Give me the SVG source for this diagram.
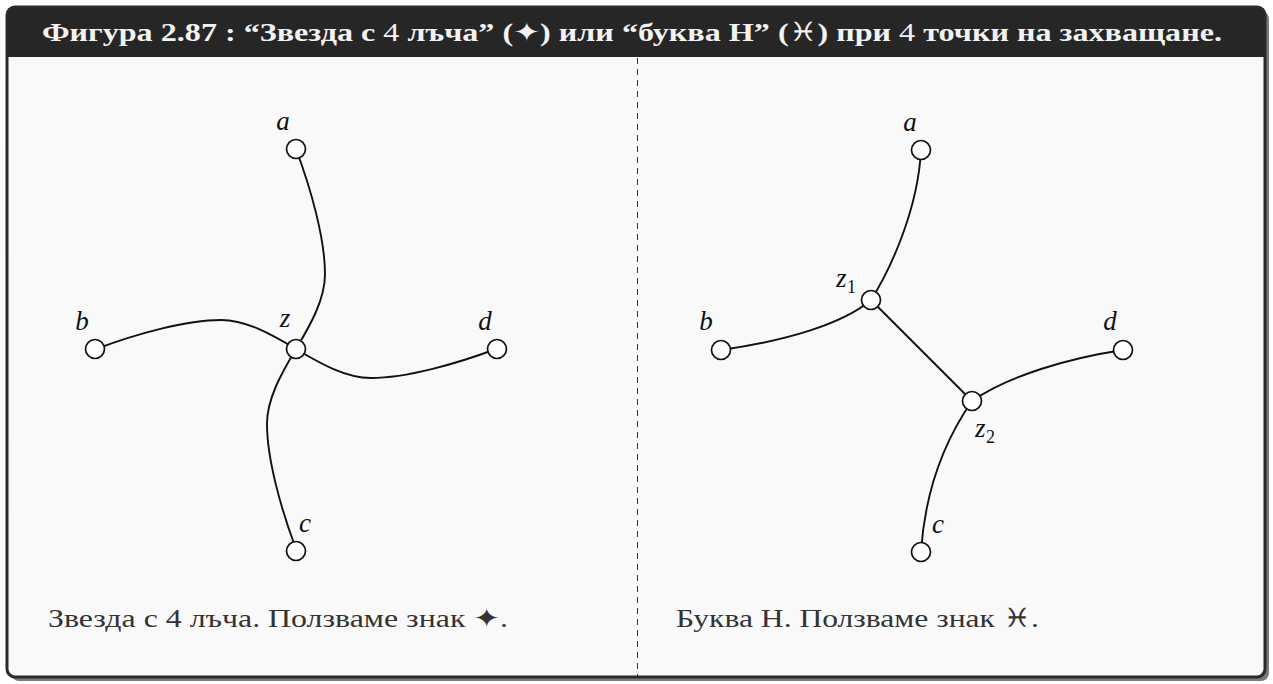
<svg xmlns="http://www.w3.org/2000/svg" width="1273" height="684" viewBox="0 0 1273 684">
<style>
.edge{fill:none;stroke:#111;stroke-width:1.9}
.node{fill:#fff;stroke:#111;stroke-width:1.7}
.lbl{font-family:"Liberation Serif",serif;font-style:italic;font-size:27px;fill:#111}
.sub{font-family:"Liberation Serif",serif;font-size:18px;fill:#111}
.cap{font-family:"Liberation Serif",serif;font-size:26px;fill:#333}
.sym{font-family:"DejaVu Sans",sans-serif}
</style>
<rect x="11" y="11" width="1258" height="670" rx="8" fill="#7a7a7a"/>
<rect x="7" y="7" width="1258" height="670" rx="8" fill="#f9f9f9"/>
<path d="M7,57 V15 a8,8 0 0 1 8,-8 H1257 a8,8 0 0 1 8,8 V57 Z" fill="#262626"/>
<rect x="7" y="7" width="1258" height="670" rx="8" fill="none" stroke="#2a2a2a" stroke-width="3"/>
<text x="42" y="41" font-family="'Liberation Serif',serif" font-size="26" font-weight="bold" fill="#f2f2f2" textLength="1180" lengthAdjust="spacingAndGlyphs">Фигура 2.87 : “Звезда с <tspan font-weight="normal">4</tspan> лъча” (<tspan class="sym" font-weight="normal">✦</tspan>) или “буква H” (<tspan class="sym" font-weight="normal">♓︎</tspan>) при <tspan font-weight="normal">4</tspan> точки на захващане.</text>
<line x1="637.5" y1="58" x2="637.5" y2="676" stroke="#333" stroke-width="1" stroke-dasharray="6 5"/>
<g id="connectors">
<g transform="translate(296,349)">
<path class="edge" d="M0,0 C15,-25 29,-50 29,-75 C29,-110 15,-160 0,-200"/>
<path class="edge" transform="rotate(-90)" d="M0,0 C15,-25 29,-50 29,-75 C29,-110 15,-160 0,-200"/>
<path class="edge" transform="rotate(180)" d="M0,0 C15,-25 29,-50 29,-75 C29,-110 15,-160 0,-200"/>
<path class="edge" transform="rotate(90)" d="M0,0 C15,-25 29,-50 29,-75 C29,-110 15,-160 0,-200"/>
</g>
<path class="edge" d="M871,300 C890,270 918,210 921,150"/>
<path class="edge" d="M721,350 C785,341 843,324 871,300"/>
<path class="edge" d="M871,300 L972,401"/>
<path class="edge" d="M972,401 C1010,375 1070,358 1123,350"/>
<path class="edge" d="M972,401 C945,440 925,490 921,552"/>
</g>
<g id="L_a"><circle class="node" cx="296" cy="149" r="9.5"/><text class="lbl" x="283" y="130" text-anchor="middle">a</text></g>
<g id="L_b"><circle class="node" cx="95" cy="349" r="9.5"/><text class="lbl" x="82" y="330" text-anchor="middle">b</text></g>
<g id="L_z"><circle class="node" cx="296" cy="349" r="9.5"/><text class="lbl" x="285" y="327" text-anchor="middle">z</text></g>
<g id="L_d"><circle class="node" cx="497" cy="349" r="9.5"/><text class="lbl" x="485" y="330" text-anchor="middle">d</text></g>
<g id="L_c"><circle class="node" cx="296" cy="551" r="9.5"/><text class="lbl" x="305" y="532" text-anchor="middle">c</text></g>
<g id="R_a"><circle class="node" cx="921" cy="150" r="9.5"/><text class="lbl" x="910" y="131" text-anchor="middle">a</text></g>
<g id="R_z1"><circle class="node" cx="871" cy="300" r="9.5"/><text class="lbl" x="836" y="287">z</text><text class="sub" x="847" y="293">1</text></g>
<g id="R_b"><circle class="node" cx="721" cy="350" r="9.5"/><text class="lbl" x="706" y="330" text-anchor="middle">b</text></g>
<g id="R_d"><circle class="node" cx="1123" cy="350" r="9.5"/><text class="lbl" x="1110" y="330" text-anchor="middle">d</text></g>
<g id="R_z2"><circle class="node" cx="972" cy="401" r="9.5"/><text class="lbl" x="975" y="437">z</text><text class="sub" x="986" y="443">2</text></g>
<g id="R_c"><circle class="node" cx="921" cy="552" r="9.5"/><text class="lbl" x="938" y="533" text-anchor="middle">c</text></g>
<text class="cap" x="48" y="627" textLength="460" lengthAdjust="spacingAndGlyphs">Звезда с 4 лъча. Ползваме знак <tspan class="sym">✦</tspan>.</text>
<text class="cap" x="676" y="627" textLength="363" lengthAdjust="spacingAndGlyphs">Буква H. Ползваме знак <tspan class="sym">♓︎</tspan>.</text>
</svg>
